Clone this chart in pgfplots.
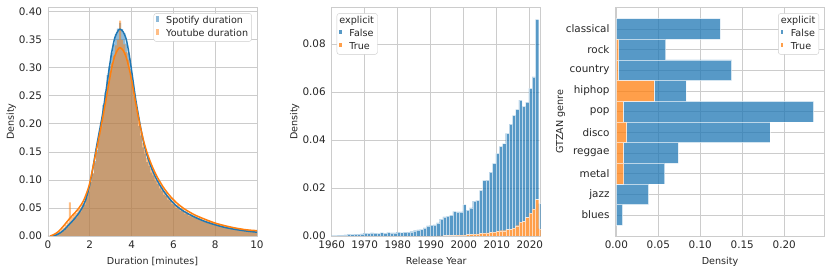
\documentclass[border=0pt]{standalone}
\usepackage{pgfplots}
\usepackage{pgfplotstable}
\pgfplotsset{compat=1.18}
\usepackage{fontspec}
\setmainfont{DejaVu Sans}
\definecolor{tabblue}{RGB}{31,119,180}
\definecolor{taborange}{RGB}{255,127,14}
\definecolor{spine}{gray}{0.8}
\definecolor{txt}{gray}{0.15}
\newcommand{\fs}{\fontsize{9.6}{11}\selectfont}
\newcommand{\ft}{\fontsize{10.4}{12}\selectfont}
\pgfplotsset{
  sb/.style={
    scale only axis, width=209pt, height=228.7pt, anchor=north west,
    axis line style={draw=spine, line width=0.8pt},
    grid=major, grid style={draw=spine, line width=0.8pt},
    major tick length=0pt,
    tick label style={font=\ft, text=txt},
    label style={font=\fs, text=txt},
    /pgf/number format/assume math mode=true,
    scaled ticks=false,
    enlargelimits=false,
    xticklabel style={inner sep=0pt, anchor=north, yshift=-4.3pt},
    yticklabel style={inner sep=0pt, anchor=east, xshift=-5.8pt},
    legend cell align=left,
    legend style={draw=spine, rounded corners=2.5pt, fill=white, font=\fs, text=txt,
      inner xsep=2.5pt, inner ysep=2pt, row sep=2pt,
      nodes={inner sep=1pt, text height=7pt, text depth=2pt}},
  }
}
\pgfplotstableread{
x      tru     fal
1960.2 0       0.0003
1961.2 0       0.0003
1962.2 0       0.0004
1963.2 0       0.0004
1964.2 0       0.0005
1965.2 0       0.0008
1966.2 0       0.0007
1967.2 0       0.0008
1968.2 0       0.0008
1969.2 0       0.0009
1970.2 0       0.0012
1971.2 0       0.0011
1972.2 0       0.0013
1973.2 0       0.0012
1974.2 0       0.0011
1975.2 0       0.0014
1976.2 0       0.0012
1977.2 0       0.0015
1978.2 0       0.0013
1979.2 0       0.0013
1980.2 0       0.0016
1981.2 0       0.0014
1982.2 0       0.0016
1983.2 0       0.0016
1984.2 0       0.0018
1985.2 0       0.0022
1986.2 0       0.0025
1987.2 0       0.0028
1988.2 0       0.0034
1989.2 0       0.0042
1990.2 0       0.0045
1991.2 0       0.0046
1992.2 0.0001  0.0054
1993.2 0.0001  0.0069
1994.2 0.0002  0.0078
1995.2 0.0002  0.0081
1996.2 0.0003  0.0084
1997.2 0.0003  0.0100
1998.2 0.0004  0.0096
1999.2 0.0004  0.0096
2000.2 0.0005  0.0126
2001.2 0.0006  0.0102
2002.2 0.0007  0.0110
2003.2 0.0008  0.0137
2004.2 0.0009  0.0139
2005.2 0.0011  0.0179
2006.2 0.0012  0.0220
2007.2 0.0013  0.0220
2008.2 0.0015  0.0251
2009.2 0.0016  0.0287
2010.2 0.0019  0.0325
2011.2 0.0022  0.0351
2012.2 0.0022  0.0363
2013.2 0.0027  0.0401
2014.2 0.0028  0.0438
2015.2 0.0033  0.0470
2016.2 0.0043  0.0485
2017.2 0.0058  0.0508
2018.2 0.0060  0.0480
2019.2 0.0077  0.0481
2020.2 0.0095  0.0520
2021.2 0.0113  0.0550
2022.2 0.0152  0.0751
2023.2 0.0030  0.0105
}\yeartable
\pgfplotstableread{
y  tru     fal
0  0       0.0075
1  0       0.0384
2  0.0090  0.0488
3  0.0083  0.0657
4  0.0123  0.1707
5  0.0080  0.2269
6  0.0448  0.0384
7  0.0020  0.1354
8  0.0030  0.0560
9  0       0.1240
}\genretable
\begin{document}
\begin{tikzpicture}
\path[use as bounding box] (0pt,0pt) rectangle (831pt,-272pt);
% ---------------- Panel 1 ----------------
\begin{axis}[sb, at={(48pt,-7.3pt)},
  xmin=0, xmax=10, ymin=0, ymax=0.408,
  xtick={0,2,4,6,8,10},
  ytick={0,0.05,0.1,0.15,0.2,0.25,0.3,0.35,0.4},
  yticklabel style={/pgf/number format/.cd, fixed, fixed zerofill, precision=2},
  xlabel={Duration [minutes]}, ylabel={Density},
  xlabel style={at={(axis description cs:0.5,-0.092)}, anchor=north, inner sep=0pt},
  ylabel style={at={(axis description cs:-0.176,0.5)}, anchor=center, inner sep=0pt},
  legend style={at={(axis description cs:0.975,0.974)}, anchor=north east},
]
\addlegendimage{legend image code/.code={\fill[tabblue, opacity=0.5, draw=none, sharp corners] (0pt,-1.2pt) rectangle (3pt,4.8pt); \path[draw=none, fill=none] (0pt,0pt) -- (9pt,0pt);}}
\addlegendentry{Spotify duration}
\addlegendimage{legend image code/.code={\fill[taborange, opacity=0.5, draw=none, sharp corners] (0pt,-1.2pt) rectangle (3pt,4.8pt); \path[draw=none, fill=none] (0pt,0pt) -- (9pt,0pt);}}
\addlegendentry{Youtube duration}
\addplot[const plot, fill=tabblue, fill opacity=0.5, draw=none, forget plot] coordinates {
(0.0,0) (0.1,0) (0.2,0.001) (0.3,0.002) (0.4,0.003) (0.5,0.005) (0.6,0.007) (0.7,0.009) (0.8,0.013) (0.9,0.016)
(1.0,0.024) (1.1,0.025) (1.2,0.031) (1.3,0.033) (1.4,0.040) (1.5,0.043) (1.6,0.051) (1.7,0.056) (1.8,0.069) (1.9,0.079)
(2.0,0.096) (2.1,0.111) (2.2,0.134) (2.3,0.153) (2.4,0.182) (2.5,0.203) (2.6,0.234) (2.7,0.256) (2.8,0.287) (2.9,0.303)
(3.0,0.327) (3.1,0.343) (3.2,0.360) (3.3,0.370) (3.4,0.380) (3.5,0.369) (3.6,0.362) (3.7,0.343) (3.8,0.326) (3.9,0.298)
(4.0,0.276) (4.1,0.248) (4.2,0.224) (4.3,0.196) (4.4,0.179) (4.5,0.158) (4.6,0.147) (4.7,0.132) (4.8,0.125) (4.9,0.113)
(5.0,0.108) (5.1,0.098) (5.2,0.093) (5.3,0.085) (5.4,0.081) (5.5,0.074) (5.6,0.071) (5.7,0.065) (5.8,0.063) (5.9,0.057)
(6.0,0.055) (6.1,0.050) (6.2,0.049) (6.3,0.045) (6.4,0.044) (6.5,0.040) (6.6,0.039) (6.7,0.036) (6.8,0.035) (6.9,0.033)
(7.0,0.032) (7.1,0.030) (7.2,0.029) (7.3,0.027) (7.4,0.026) (7.5,0.025) (7.6,0.024) (7.7,0.023) (7.8,0.022) (7.9,0.021)
(8.0,0.020) (8.1,0.019) (8.2,0.018) (8.3,0.017) (8.4,0.016) (8.5,0.015) (8.6,0.014) (8.7,0.014) (8.8,0.013) (8.9,0.012)
(9.0,0.012) (9.1,0.011) (9.2,0.011) (9.3,0.010) (9.4,0.010) (9.5,0.009) (9.6,0.009) (9.7,0.008) (9.8,0.008) (9.9,0.007)
(10.0,0.007)} \closedcycle;
\addplot[const plot, fill=taborange, fill opacity=0.5, draw=none, forget plot] coordinates {
(0.0,0) (0.1,0.001) (0.2,0.002) (0.3,0.004) (0.4,0.006) (0.5,0.008) (0.6,0.012) (0.7,0.015) (0.8,0.020) (0.9,0.024)
(1.0,0.060) (1.1,0.034) (1.2,0.038) (1.3,0.041) (1.4,0.047) (1.5,0.050) (1.6,0.057) (1.7,0.062) (1.8,0.073) (1.9,0.083)
(2.0,0.099) (2.1,0.112) (2.2,0.131) (2.3,0.149) (2.4,0.173) (2.5,0.195) (2.6,0.223) (2.7,0.247) (2.8,0.276) (2.9,0.292)
(3.0,0.308) (3.1,0.322) (3.2,0.340) (3.3,0.350) (3.4,0.384) (3.5,0.350) (3.6,0.342) (3.7,0.328) (3.8,0.314) (3.9,0.289)
(4.0,0.270) (4.1,0.249) (4.2,0.229) (4.3,0.204) (4.4,0.186) (4.5,0.166) (4.6,0.153) (4.7,0.139) (4.8,0.131) (4.9,0.120)
(5.0,0.114) (5.1,0.104) (5.2,0.099) (5.3,0.091) (5.4,0.087) (5.5,0.080) (5.6,0.077) (5.7,0.071) (5.8,0.069) (5.9,0.063)
(6.0,0.061) (6.1,0.056) (6.2,0.055) (6.3,0.050) (6.4,0.049) (6.5,0.045) (6.6,0.044) (6.7,0.040) (6.8,0.039) (6.9,0.037)
(7.0,0.036) (7.1,0.034) (7.2,0.032) (7.3,0.031) (7.4,0.029) (7.5,0.028) (7.6,0.027) (7.7,0.026) (7.8,0.025) (7.9,0.024)
(8.0,0.023) (8.1,0.022) (8.2,0.021) (8.3,0.020) (8.4,0.019) (8.5,0.018) (8.6,0.017) (8.7,0.016) (8.8,0.015) (8.9,0.015)
(9.0,0.014) (9.1,0.013) (9.2,0.013) (9.3,0.012) (9.4,0.012) (9.5,0.011) (9.6,0.011) (9.7,0.010) (9.8,0.010) (9.9,0.009)
(10.0,0.009)} \closedcycle;
\addplot[tabblue, line width=1.5pt, smooth, forget plot] coordinates {
(0.25,0.0) (0.4,0.002) (0.6,0.006) (0.8,0.012) (1.0,0.020) (1.2,0.028) (1.4,0.037) (1.6,0.048) (1.8,0.064)
(2.0,0.092) (2.15,0.122) (2.3,0.155) (2.45,0.185) (2.6,0.215) (2.75,0.252) (2.9,0.292) (3.05,0.328) (3.2,0.354) (3.35,0.366)
(3.45,0.369) (3.6,0.364) (3.75,0.350) (3.9,0.320) (4.05,0.282) (4.2,0.243) (4.4,0.200) (4.6,0.163) (4.8,0.137)
(5.0,0.117) (5.2,0.101) (5.5,0.082) (5.8,0.067) (6.1,0.055) (6.5,0.044) (7.0,0.034) (7.5,0.026) (8.0,0.020)
(8.5,0.015) (9.0,0.0115) (9.5,0.0088) (10,0.0068)};
\addplot[taborange, line width=1.5pt, smooth, forget plot] coordinates {
(0.1,0.0) (0.3,0.003) (0.5,0.008) (0.7,0.016) (0.9,0.025) (1.1,0.034) (1.3,0.042) (1.5,0.051) (1.7,0.063) (1.9,0.082)
(2.0,0.095) (2.15,0.122) (2.3,0.150) (2.45,0.178) (2.6,0.207) (2.75,0.238) (2.9,0.270) (3.05,0.300) (3.2,0.322) (3.35,0.333)
(3.45,0.336) (3.6,0.331) (3.75,0.318) (3.9,0.296) (4.05,0.268) (4.2,0.236) (4.4,0.198) (4.6,0.166) (4.8,0.142)
(5.0,0.123) (5.2,0.107) (5.5,0.088) (5.8,0.073) (6.1,0.061) (6.5,0.049) (7.0,0.038) (7.5,0.030) (8.0,0.023)
(8.5,0.018) (9.0,0.014) (9.5,0.011) (10,0.0095)};
\end{axis}
% ---------------- Panel 2 ----------------
\begin{axis}[sb, at={(331.7pt,-7.3pt)},
  xmin=1960, xmax=2023.3, ymin=0, ymax=0.0953,
  ybar stacked, bar width=1,
  xtick={1960,1970,1980,1990,2000,2010,2020},
  ytick={0,0.02,0.04,0.06,0.08},
  xticklabel style={/pgf/number format/1000 sep={}},
  yticklabel style={/pgf/number format/.cd, fixed, fixed zerofill, precision=2},
  xlabel={Release Year}, ylabel={Density},
  xlabel style={at={(axis description cs:0.5,-0.092)}, anchor=north, inner sep=0pt},
  ylabel style={at={(axis description cs:-0.177,0.5)}, anchor=center, inner sep=0pt},
  legend style={at={(axis description cs:0.024,0.974)}, anchor=north west},
]
\addlegendimage{empty legend}
\addlegendentry{\hspace*{-10pt}explicit}
\addlegendimage{legend image code/.code={\fill[tabblue, opacity=0.75, draw=none, sharp corners] (0pt,-0.5pt) rectangle (2.2pt,4pt); \path[draw=none, fill=none] (0pt,0pt) -- (9pt,0pt);}}
\addlegendentry{False}
\addlegendimage{legend image code/.code={\fill[taborange, opacity=0.75, draw=none, sharp corners] (0pt,-0.5pt) rectangle (2.2pt,4pt); \path[draw=none, fill=none] (0pt,0pt) -- (9pt,0pt);}}
\addlegendentry{True}
\addplot[fill=taborange, fill opacity=0.75, draw=white, draw opacity=0.6, line width=0.3pt, forget plot] table[x=x, y=tru] {\yeartable};
\addplot[fill=tabblue, fill opacity=0.75, draw=white, draw opacity=0.6, line width=0.3pt, forget plot] table[x=x, y=fal] {\yeartable};
\end{axis}
% ---------------- Panel 3 ----------------
\begin{axis}[sb, at={(615.5pt,-7.3pt)},
  xmin=-0.001, xmax=0.248, ymin=-1.02, ymax=10.05,
  xbar stacked, bar width=1,
  xtick={0,0.05,0.1,0.15,0.2},
  ytick={0,1,2,3,4,5,6,7,8,9},
  yticklabels={blues,jazz,metal,reggae,disco,pop,hiphop,country,rock,classical},
  xticklabel style={/pgf/number format/.cd, fixed, fixed zerofill, precision=2},
  xlabel={Density}, ylabel={GTZAN genre},
  xlabel style={at={(axis description cs:0.5,-0.092)}, anchor=north, inner sep=0pt},
  ylabel style={at={(axis description cs:-0.263,0.5)}, anchor=center, inner sep=0pt},
  legend style={at={(axis description cs:0.974,0.974)}, anchor=north east},
]
\addlegendimage{empty legend}
\addlegendentry{\hspace*{-10pt}explicit}
\addlegendimage{legend image code/.code={\fill[tabblue, opacity=0.75, draw=none, sharp corners] (0pt,-0.5pt) rectangle (2.2pt,4pt); \path[draw=none, fill=none] (0pt,0pt) -- (9pt,0pt);}}
\addlegendentry{False}
\addlegendimage{legend image code/.code={\fill[taborange, opacity=0.75, draw=none, sharp corners] (0pt,-0.5pt) rectangle (2.2pt,4pt); \path[draw=none, fill=none] (0pt,0pt) -- (9pt,0pt);}}
\addlegendentry{True}
\addplot[fill=taborange, fill opacity=0.75, draw=white, draw opacity=0.6, line width=0.8pt, forget plot] table[x=tru, y=y] {\genretable};
\addplot[fill=tabblue, fill opacity=0.75, draw=white, draw opacity=0.6, line width=0.8pt, forget plot] table[x=fal, y=y] {\genretable};
\end{axis}
\end{tikzpicture}
\end{document}
